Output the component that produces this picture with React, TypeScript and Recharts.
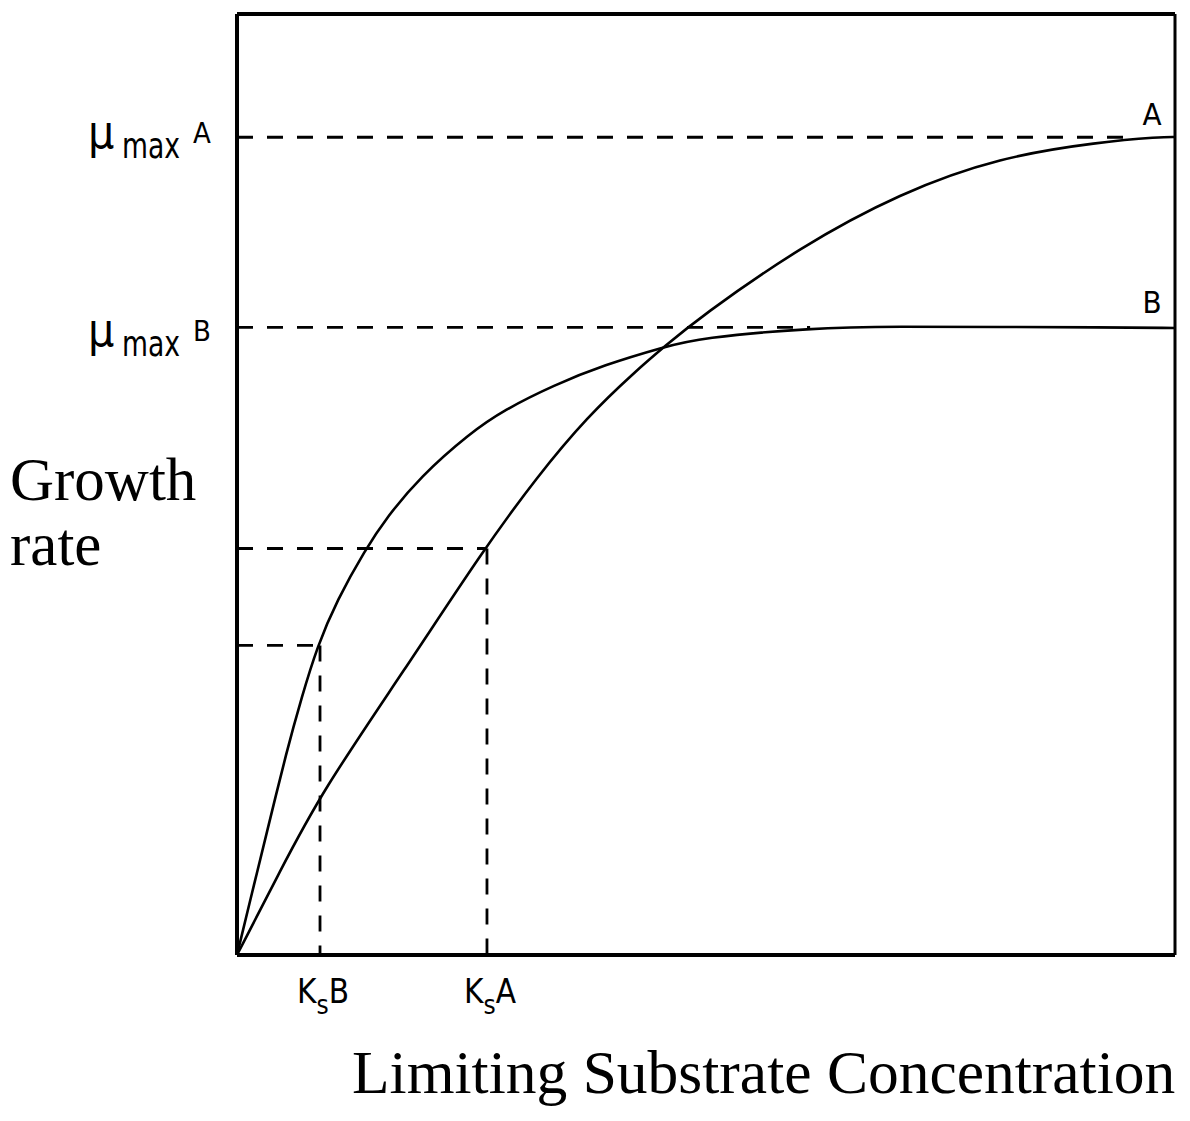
import React from "react";
import { Line, LineChart, ReferenceLine, XAxis, YAxis } from "recharts";

// substrate (x) and growth rate (y), both on a 0-100 scale
const substrateA = [0, 4.58, 9.06, 17.8, 26.33, 31.98, 37.31, 42.64, 45.52, 49.36, 60.02, 70.68, 81.34, 92.0, 98.4, 100];
const growthA = [0, 8.9, 17.4, 30.2, 43.15, 50.8, 57.17, 62.17, 64.61, 67.8, 75.24, 80.98, 84.8, 86.4, 86.93, 86.93];

const substrateB = [0, 1.6, 3.09, 5.33, 6.9, 8.53, 10.66, 13.65, 16.0, 19.51, 24.84, 28.46, 33.8, 39.13, 45.52, 49.36, 61.09, 70.68, 81.34, 92.0, 100];
const growthB = [0, 6.6, 12.65, 21.8, 27.4, 32.73, 37.7, 43.04, 46.55, 50.8, 55.47, 57.92, 60.57, 62.7, 64.61, 65.57, 66.63, 66.8, 66.74, 66.7, 66.63];

const muMaxA = 86.9;
const muMaxB = 66.7;
const halfMuA = 43.2;
const halfMuB = 32.9;
const ksA = 26.65;
const ksB = 8.85;
// where the dashed μmax guides run into their curves
const muMaxAEnd = 95.2;
const muMaxBEnd = 61.1;

const yTickLetters: Record<number, string> = { [muMaxA]: "A", [muMaxB]: "B" };
const xTickLetters: Record<number, string> = { [ksA]: "A", [ksB]: "B" };

const curveA = substrateA.map((s, i) => ({ substrate: s, growth: growthA[i] }));
const curveB = substrateB.map((s, i) => ({ substrate: s, growth: growthB[i] }));

const labelFont = "'DejaVu Sans Condensed', 'DejaVu Sans', sans-serif";
const serif = "'Liberation Serif', 'Times New Roman', serif";
const dash = "16 14";

const MuTick = (props: any) => {
  const { y, payload } = props;
  const letter = yTickLetters[payload.value];
  const low = letter === "B" ? 8 : 0;
  return (
    <g fontFamily={labelFont} fill="#000">
      <text x={88} y={y + 11 + low} fontSize={46}>
        μ
      </text>
      <text x={122} y={y + 21 + low} fontSize={36} textLength={58} lengthAdjust="spacingAndGlyphs">
        max
      </text>
      <text x={193} y={y + 6 + low} fontSize={29}>
        {letter}
      </text>
    </g>
  );
};

const KsTick = (props: any) => {
  const { x, y, payload } = props;
  const letter = xTickLetters[payload.value];
  return (
    <text x={x + 3} y={y + 48} textAnchor="middle" fontFamily={labelFont} fill="#000" fontSize={33}>
      K
      <tspan fontSize={26} dy={11}>
        s
      </tspan>
      <tspan dy={-11}>{letter}</tspan>
    </text>
  );
};

const endLabel = (letter: string, last: number, dy: number) => (props: any) => {
  const { x, y, index } = props;
  if (index !== last) return null;
  return (
    <text x={x - 23} y={y + dy} textAnchor="middle" fontFamily={labelFont} fontSize={31} fill="#000">
      {letter}
    </text>
  );
};

const App: React.FC = () => {
  return (
    <div style={{ position: "absolute", left: 0, top: 0, width: 1190, height: 1121, background: "#fff" }}>
      <LineChart width={1190} height={1121} margin={{ top: 14, right: 15, left: 0, bottom: 0 }}>
        <XAxis
          type="number"
          dataKey="substrate"
          domain={[0, 100]}
          ticks={[ksB, ksA]}
          height={166}
          tickSize={0}
          tickMargin={0}
          tickLine={false}
          axisLine={{ stroke: "#000", strokeWidth: 4 }}
          tick={<KsTick />}
        />
        <YAxis
          type="number"
          dataKey="growth"
          domain={[0, 100]}
          ticks={[muMaxB, muMaxA]}
          width={237}
          tickSize={0}
          tickMargin={0}
          tickLine={false}
          axisLine={{ stroke: "#000", strokeWidth: 4 }}
          tick={<MuTick />}
        />
        <ReferenceLine y={100} stroke="#000" strokeWidth={4} />
        <ReferenceLine x={100} stroke="#000" strokeWidth={3} />

        <ReferenceLine
          segment={[{ x: 0, y: muMaxA }, { x: muMaxAEnd, y: muMaxA }]}
          stroke="#000"
          strokeWidth={2.8}
          strokeDasharray={dash}
        />
        <ReferenceLine
          segment={[{ x: 0, y: muMaxB }, { x: muMaxBEnd, y: muMaxB }]}
          stroke="#000"
          strokeWidth={2.8}
          strokeDasharray={dash}
        />
        <ReferenceLine
          segment={[{ x: 0, y: halfMuA }, { x: ksA, y: halfMuA }]}
          stroke="#000"
          strokeWidth={2.8}
          strokeDasharray={dash}
        />
        <ReferenceLine
          segment={[{ x: ksA, y: halfMuA }, { x: ksA, y: 0 }]}
          stroke="#000"
          strokeWidth={2.8}
          strokeDasharray={dash}
        />
        <ReferenceLine
          segment={[{ x: 0, y: halfMuB }, { x: ksB, y: halfMuB }]}
          stroke="#000"
          strokeWidth={2.8}
          strokeDasharray={dash}
        />
        <ReferenceLine
          segment={[{ x: ksB, y: halfMuB }, { x: ksB, y: 0 }]}
          stroke="#000"
          strokeWidth={2.8}
          strokeDasharray={dash}
        />

        <Line
          data={curveA}
          dataKey="growth"
          type="basis"
          stroke="#000"
          strokeWidth={2.6}
          dot={false}
          isAnimationActive={false}
          label={endLabel("A", curveA.length - 1, -12)}
        />
        <Line
          data={curveB}
          dataKey="growth"
          type="basis"
          stroke="#000"
          strokeWidth={2.6}
          dot={false}
          isAnimationActive={false}
          label={endLabel("B", curveB.length - 1, -15)}
        />
      </LineChart>
      <svg
        width={1190}
        height={1121}
        style={{ position: "absolute", left: 0, top: 0, pointerEvents: "none" }}
      >
        <g fontFamily={serif} fill="#000">
          <text x={10} y={500} fontSize={61}>
            Growth
          </text>
          <text x={10} y={565} fontSize={61}>
            rate
          </text>
          <text x={352} y={1093} fontSize={61.5}>
            Limiting Substrate Concentration
          </text>
        </g>
      </svg>
    </div>
  );
};

export default App;
